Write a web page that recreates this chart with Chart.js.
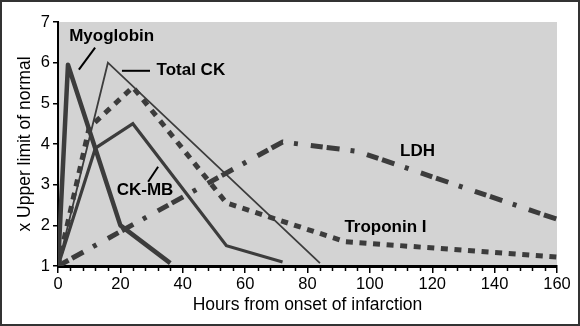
<!DOCTYPE html>
<html lang="en">

<head>
    <meta charset="UTF-8" />
    <title>Cardiac markers after infarction</title>
    <script src="https://cdn.jsdelivr.net/npm/chart.js"></script>
    <style>
        body {
            margin: 0;
            background: #fff;
        }

        #frame {
            position: absolute;
            left: 0;
            top: 0;
            width: 580px;
            height: 326px;
            box-sizing: border-box;
            border: 2px solid #333;
            background: #fff;
        }
    </style>
</head>

<body>

    <div id="frame">
        <canvas id="markerChart" width="576" height="322"></canvas>
    </div>

    <script>
        // Dades llegides del gràfic (hores, x límit superior normal)
        const myoHours = [0, 3.2, 20, 36];
        const myoglobin = [1, 5.95, 2, 1.07];
        const totalCkHours = [0, 16, 84];
        const totalCk = [1, 6, 1.07];
        const ckmbHours = [0, 12, 24, 54, 72];
        const ckmb = [1, 3.9, 4.5, 1.5, 1.1];
        const troponinHours = [0, 10, 24, 54, 92, 160];
        const troponin = [1, 4.4, 5.4, 2.55, 1.6, 1.22];
        const ldhHours = [0, 72, 96, 160];
        const ldh = [1, 4.05, 3.82, 2.15];

        const xTicks = [0, 20, 40, 60, 80, 100, 120, 140, 160];
        const yTicks = [1, 2, 3, 4, 5, 6, 7];

        // Etiquetes dins del gràfic: [text, hora, valor, alineació]
        const labels = [
            ['Myoglobin', 17.2, 6.64, 'center'],
            ['Total CK', 31.6, 5.80, 'left'],
            ['CK-MB', 27.9, 2.85, 'center'],
            ['LDH', 115.3, 3.81, 'center'],
            ['Troponin I', 105, 1.94, 'center']
        ];
        // Línies indicadores: [hora1, valor1, hora2, valor2]
        const pointers = [
            [6.7, 5.83, 11.9, 6.37],
            [20.5, 5.80, 29.5, 5.80],
            [28.9, 3.07, 32.1, 3.44]
        ];

        const FONT = '"Liberation Sans", Arial, sans-serif';
        const LINE = '#3c3c3c';

        function toPoints(xs, ys) {
            return xs.map((x, i) => ({ x: x, y: ys[i] }));
        }

        const plotBackground = {
            id: 'plotBackground',
            beforeDraw(chart) {
                const { ctx, chartArea: a } = chart;
                ctx.save();
                ctx.fillStyle = '#d3d3d3';
                ctx.fillRect(a.left, a.top, a.right - a.left, a.bottom - a.top);
                ctx.restore();
            }
        };

        const minorTicks = {
            id: 'minorTicks',
            afterDraw(chart) {
                const { ctx, scales: { x }, chartArea: a } = chart;
                ctx.save();
                ctx.strokeStyle = '#000';
                ctx.lineWidth = 1.5;
                for (let h = 0; h <= 160; h += 4) {
                    if (h % 20 === 0) continue;
                    const px = Math.round(x.getPixelForValue(h)) + 0.5;
                    ctx.beginPath();
                    ctx.moveTo(px, a.bottom);
                    ctx.lineTo(px, a.bottom + 5);
                    ctx.stroke();
                }
                ctx.restore();
            }
        };

        const annotations = {
            id: 'annotations',
            afterDatasetsDraw(chart) {
                const { ctx, scales: { x, y } } = chart;
                ctx.save();
                ctx.fillStyle = '#000';
                ctx.font = 'bold 17px ' + FONT;
                ctx.textBaseline = 'middle';
                labels.forEach(([text, h, v, align]) => {
                    ctx.textAlign = align;
                    ctx.fillText(text, x.getPixelForValue(h), y.getPixelForValue(v));
                });
                ctx.strokeStyle = '#000';
                ctx.lineWidth = 2;
                pointers.forEach(([h1, v1, h2, v2]) => {
                    ctx.beginPath();
                    ctx.moveTo(x.getPixelForValue(h1), y.getPixelForValue(v1));
                    ctx.lineTo(x.getPixelForValue(h2), y.getPixelForValue(v2));
                    ctx.stroke();
                });
                ctx.restore();
            }
        };

        const ctx = document.getElementById('markerChart').getContext('2d');

        new Chart(ctx, {
            type: 'line',
            data: {
                datasets: [
                    {
                        label: 'LDH',
                        data: toPoints(ldhHours, ldh),
                        borderColor: LINE,
                        borderWidth: 5,
                        borderDash: [12, 4, 13, 11, 4, 13]
                    },
                    {
                        label: 'Troponin I',
                        data: toPoints(troponinHours, troponin),
                        borderColor: LINE,
                        borderWidth: 5,
                        borderDash: [7, 6.6]
                    },
                    {
                        label: 'Total CK',
                        data: toPoints(totalCkHours, totalCk),
                        borderColor: LINE,
                        borderWidth: 1.8
                    },
                    {
                        label: 'CK-MB',
                        data: toPoints(ckmbHours, ckmb),
                        borderColor: LINE,
                        borderWidth: 3.2
                    },
                    {
                        label: 'Myoglobin',
                        data: toPoints(myoHours, myoglobin),
                        borderColor: LINE,
                        borderWidth: 4.5,
                        borderJoinStyle: 'round'
                    }
                ]
            },
            options: {
                responsive: false,
                animation: false,
                devicePixelRatio: 1,
                layout: {
                    padding: { top: 20, right: 21, left: 0, bottom: 0 }
                },
                elements: {
                    point: { radius: 0 },
                    line: { tension: 0, fill: false, borderCapStyle: 'butt', borderJoinStyle: 'miter' }
                },
                plugins: {
                    legend: { display: false },
                    tooltip: { enabled: false }
                },
                scales: {
                    x: {
                        type: 'linear',
                        min: 0,
                        max: 160,
                        afterBuildTicks: scale => {
                            scale.ticks = xTicks.map(v => ({ value: v }));
                        },
                        afterFit: scale => {
                            scale.height = 58;
                        },
                        ticks: {
                            autoSkip: false,
                            maxRotation: 0,
                            padding: 2,
                            color: '#000',
                            font: { family: FONT, size: 16.5 }
                        },
                        grid: {
                            drawOnChartArea: false,
                            tickLength: 7,
                            color: '#000',
                            lineWidth: 1.5
                        },
                        border: { color: '#000', width: 3 },
                        title: {
                            display: true,
                            text: 'Hours from onset of infarction',
                            color: '#000',
                            font: { family: FONT, size: 17.5 },
                            padding: { top: 0, bottom: 8.5 }
                        }
                    },
                    y: {
                        min: 1,
                        max: 7,
                        afterBuildTicks: scale => {
                            scale.ticks = yTicks.map(v => ({ value: v }));
                        },
                        afterFit: scale => {
                            scale.width = 56;
                        },
                        ticks: {
                            padding: 3,
                            color: '#000',
                            font: { family: FONT, size: 16.5 }
                        },
                        grid: {
                            drawOnChartArea: false,
                            tickLength: 5,
                            color: '#000',
                            lineWidth: 1.5
                        },
                        border: { color: '#000', width: 2 },
                        title: {
                            display: true,
                            text: 'x Upper limit of normal',
                            color: '#000',
                            font: { family: FONT, size: 17.5 },
                            padding: { top: 12.5, bottom: 0 }
                        }
                    }
                }
            },
            plugins: [plotBackground, minorTicks, annotations]
        });
    </script>
</body>

</html>
